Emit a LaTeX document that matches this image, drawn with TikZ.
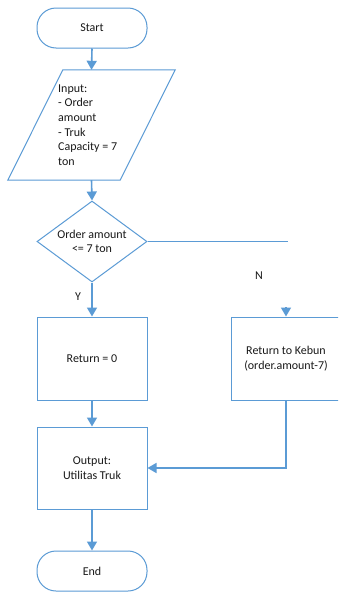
\documentclass[tikz,border=0pt]{standalone}
\usepackage{fontspec}
\setmainfont{Carlito}
\usetikzlibrary{shapes.geometric,arrows.meta}
\definecolor{lineblue}{HTML}{5B9BD5}
\tikzset{
  base/.style={font=\fontsize{12}{14.7}\selectfont, text=black!90},
  box/.style={base, draw=lineblue, line width=1pt, minimum width=110pt, inner sep=0pt, align=center},
  term/.style={box, minimum height=40pt, rounded corners=19pt},
  proc/.style={box, minimum height=83pt},
  conn/.style={draw=lineblue, line width=1.6pt, -{Triangle[width=10pt,length=9pt]}},
  plainconn/.style={draw=lineblue, line width=1.6pt},
  lbl/.style={base, inner sep=0pt}
}
\begin{document}
\begin{tikzpicture}[x=1pt, y=-1pt]
\clip (0,0) rectangle (338,592);
\fill[white] (0,0) rectangle (338,592);
% nodes
\node[term] (start) at (92,28) {Start};
\node[minimum width=112pt, minimum height=110pt, inner sep=0pt] (inp) at (91.5,125) {};
\draw[draw=lineblue, line width=1pt]
  ([xshift=27.5pt]inp.north west) -- ([xshift=27.5pt]inp.north east)
  -- ([xshift=-27.5pt]inp.south east) -- ([xshift=-27.5pt]inp.south west) -- cycle;
\node[lbl, anchor=west, align=left] (inptext) at (58,125) {Input:\\- Order\\amount\\- Truk\\Capacity = 7\\ton};
\node[diamond, draw=lineblue, line width=1pt, minimum width=110pt, minimum height=81pt, inner sep=0pt, aspect=1.36] (dec) at (92,241.5) {};
\node[lbl, align=center] (dectext) at (dec.center) {Order amount\\<= 7 ton};
\node[proc] (ret0) at (92,358.5) {Return = 0};
\node[proc] (retk) at (286,358.5) {Return to Kebun\\(order.amount-7)};
\node[proc, minimum height=82pt] (out) at (92,468) {Output:\\Utilitas Truk};
\node[term] (end) at (92,571) {End};
% labels
\node[lbl] (ylab) at (78,297) {Y};
\node[lbl] (nlab) at (259,276) {N};
% connectors
\coordinate (nend) at (288,241.5);
\coordinate (nstub) at (286,307);
\draw[conn] (start.south) -- (inp.north);
\draw[conn] (inp.south) -- (dec.north);
\draw[plainconn] (dec.east) -- (nend);
\draw[conn] (nstub) -- (retk.north);
\draw[conn] (dec.south) -- (ret0.north);
\draw[conn] (ret0.south) -- (out.north);
\draw[conn] (retk.south) |- (out.east);
\draw[conn] (out.south) -- (end.north);
\end{tikzpicture}
\end{document}
